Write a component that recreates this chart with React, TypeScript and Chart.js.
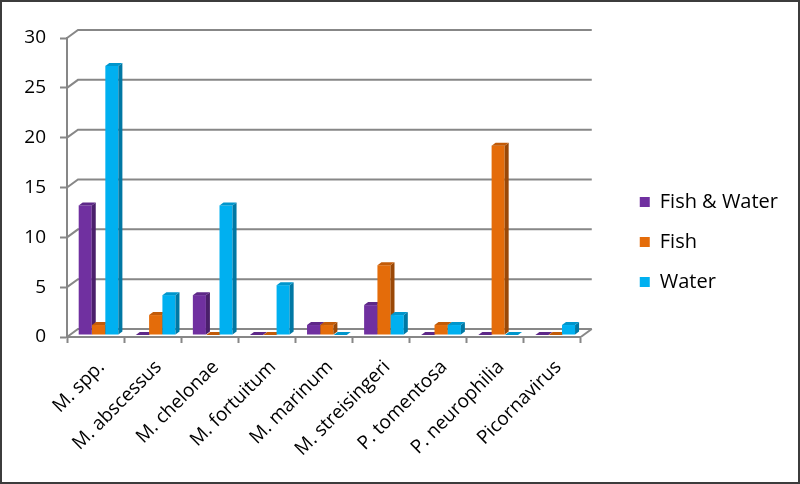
import { useEffect, useRef } from "react";
import { Chart, registerables } from "chart.js";

Chart.register(...registerables);

const categories = [
  "M. spp.",
  "M. abscessus",
  "M. chelonae",
  "M. fortuitum",
  "M. marinum",
  "M. streisingeri",
  "P. tomentosa",
  "P. neurophilia",
  "Picornavirus",
];
const fishAndWater = [13, 0, 4, 0, 1, 3, 0, 0, 0];
const fish = [1, 2, 0, 0, 1, 7, 1, 19, 0];
const water = [27, 4, 13, 5, 0, 2, 1, 0, 1];
const seriesNames = ["Fish & Water", "Fish", "Water"];
const yMin = 0;
const yMax = 30;
const yStep = 5;

const FONT = "'Open Sans', 'Noto Sans', sans-serif";
const GRID = "#878787";
const FRONT = ["#7030A0", "#E46C0A", "#00B0F0"];
const SIDE = ["#4A1F6B", "#9A4807", "#0078A4"];
const TOP = ["#5E2888", "#C25B08", "#0096CC"];

const WALL_DX = 11;
const WALL_DY = -8;
const BAR_DX = 4;
const BAR_DY = -3;
const BAR_SHIFT_X = 3;
const BAR_SHIFT_Y = -2;

const threeD = {
  id: "threeD",
  beforeDatasetsDraw(chart: any) {
    const { ctx, chartArea, scales } = chart;
    const { left, right, bottom } = chartArea;
    const y = scales.y;
    ctx.save();
    ctx.strokeStyle = GRID;
    ctx.lineWidth = 2;
    y.ticks.forEach((t: any) => {
      const py = y.getPixelForValue(t.value);
      ctx.beginPath();
      ctx.moveTo(left, py);
      ctx.lineTo(left + WALL_DX, py + WALL_DY);
      ctx.lineTo(right + WALL_DX, py + WALL_DY);
      ctx.stroke();
    });
    ctx.beginPath();
    ctx.moveTo(right, bottom);
    ctx.lineTo(right + WALL_DX, bottom + WALL_DY);
    ctx.stroke();
    ctx.restore();
  },
  afterDatasetsDraw(chart: any) {
    const { ctx } = chart;
    const n = chart.data.labels.length;
    ctx.save();
    for (let j = 0; j < n; j++) {
      for (let i = 0; i < chart.data.datasets.length; i++) {
        const meta = chart.getDatasetMeta(i);
        const el = meta.data[j];
        if (!el) continue;
        const { x, y, base, width } = el.getProps(["x", "y", "base", "width"], true);
        const l = x - width / 2 + BAR_SHIFT_X;
        const r = x + width / 2 + BAR_SHIFT_X;
        const t = Math.min(y, base) + BAR_SHIFT_Y;
        const b = Math.max(y, base) + BAR_SHIFT_Y;
        ctx.fillStyle = FRONT[i];
        ctx.fillRect(l, t, r - l, b - t);
        ctx.fillStyle = SIDE[i];
        ctx.beginPath();
        ctx.moveTo(r, t);
        ctx.lineTo(r + BAR_DX, t + BAR_DY);
        ctx.lineTo(r + BAR_DX, b + BAR_DY);
        ctx.lineTo(r, b);
        ctx.closePath();
        ctx.fill();
        ctx.fillStyle = TOP[i];
        ctx.beginPath();
        ctx.moveTo(l, t);
        ctx.lineTo(l + BAR_DX, t + BAR_DY);
        ctx.lineTo(r + BAR_DX, t + BAR_DY);
        ctx.lineTo(r, t);
        ctx.closePath();
        ctx.fill();
      }
    }
    ctx.restore();
  },
};

export default function App() {
  const ref = useRef<HTMLCanvasElement | null>(null);
  useEffect(() => {
    if (!ref.current) return;
    const seriesData = [fishAndWater, fish, water];
    const chart = new Chart(ref.current, {
      type: "bar",
      data: {
        labels: categories,
        datasets: seriesNames.map((name, i) => ({
          label: name,
          data: seriesData[i],
          backgroundColor: "rgba(0,0,0,0)",
          borderWidth: 0,
          categoryPercentage: 0.7,
          barPercentage: 0.98,
        })),
      },
      options: {
        animation: false,
        responsive: true,
        maintainAspectRatio: false,
        layout: { padding: { left: 8, top: 0, right: 10, bottom: 0 } },
        plugins: {
          tooltip: { enabled: false },
          title: {
            display: true,
            text: "",
            font: { size: 10, lineHeight: 1 },
            padding: { top: 26, bottom: 0 },
          },
          legend: {
            position: "right",
            maxWidth: 240,
            labels: {
              font: { family: FONT, size: 20 },
              color: "#000",
              boxWidth: 10,
              boxHeight: 10,
              padding: 20,
              generateLabels: (c: any) =>
                Chart.defaults.plugins.legend.labels
                  .generateLabels(c)
                  .map((item: any, i: number) => ({
                    ...item,
                    fillStyle: FRONT[i],
                    strokeStyle: FRONT[i],
                    lineWidth: 0,
                  })),
            },
          },
        },
        scales: {
          x: {
            offset: true,
            grid: {
              offset: true,
              drawOnChartArea: false,
              tickLength: 6,
              tickWidth: 2,
              tickColor: GRID,
            },
            border: { display: true, color: GRID, width: 2 },
            ticks: {
              minRotation: 45,
              maxRotation: 45,
              color: "#000",
              font: { family: FONT, size: 19 },
              padding: 13,
              labelOffset: 6,
            },
            afterFit(s: any) {
              s.height = 145;
            },
          },
          y: {
            min: yMin,
            max: yMax,
            ticks: {
              stepSize: yStep,
              color: "#000",
              font: { family: FONT, size: 19 },
              padding: 14,
            },
            grid: {
              drawOnChartArea: false,
              tickLength: 7,
              tickWidth: 2,
              tickColor: GRID,
            },
            border: { display: true, color: GRID, width: 2 },
            afterFit(s: any) {
              s.width = 57;
            },
          },
          pad: {
            type: "linear",
            position: "right",
            display: true,
            ticks: { display: false },
            grid: { display: false },
            border: { display: false },
            afterFit(s: any) {
              s.width = 39;
            },
          },
        },
      },
      plugins: [threeD],
    });
    return () => chart.destroy();
  }, []);
  return (
    <div
      style={{
        position: "fixed",
        left: 0,
        top: 0,
        width: 800,
        height: 484,
        border: "2px solid #3c3c3c",
        boxSizing: "border-box",
        background: "#fff",
      }}
    >
      <div style={{ position: "relative", width: "100%", height: "100%" }}>
        <canvas ref={ref} />
      </div>
    </div>
  );
}
